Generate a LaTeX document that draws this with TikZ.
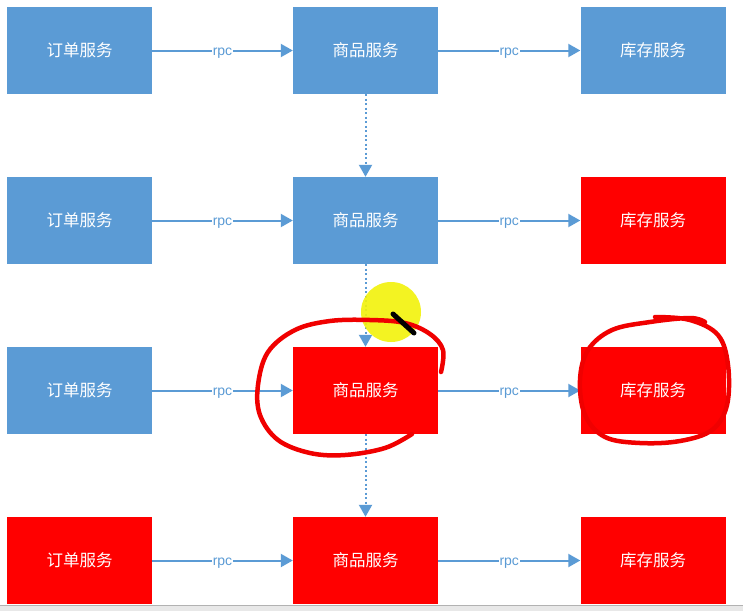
\documentclass[tikz,border=0pt]{standalone}
\usepackage{fontspec}
\setmainfont{Liberation Sans}
\newfontfamily\cjk{Noto Sans CJK SC}
\usetikzlibrary{arrows.meta}
\definecolor{svcblue}{HTML}{5B9BD5}
\definecolor{svcred}{HTML}{FF0000}
\definecolor{penred}{HTML}{F00000}
\definecolor{hilite}{HTML}{F2F20A}
\tikzset{
  svc/.style={minimum width=145pt, minimum height=87pt, inner sep=0pt,
    text=white, font=\cjk\fontsize{16.5}{18}\selectfont},
  okbox/.style={svc, fill=svcblue},
  downbox/.style={svc, fill=svcred},
  call/.style={draw=svcblue, line width=2pt, -{Triangle[length=12pt,width=13pt]}},
  fallback/.style={draw=svcblue, line width=2pt, dash pattern=on 2pt off 2.5pt,
    -{Triangle[length=12pt,width=13pt]}},
  rpclabel/.style={fill=white, text=svcblue, inner xsep=1pt, inner ysep=0pt,
    yshift=-2.5pt, font=\fontsize{14}{15}\selectfont},
  pen/.style={draw=penred, line width=4.5pt, line cap=round, line join=round}
}
\begin{document}
\begin{tikzpicture}[x=1pt, y=-1pt]
  \useasboundingbox (0,0) rectangle (743,611);
  \fill[white] (0,0) rectangle (743,611);
  % window strip along the bottom edge
  \fill[black!9] (0,605) rectangle (743,611);
  \draw[black!30, line width=1pt] (0,605.5) -- (743,605.5);

  % row 1: all services healthy
  \node[okbox]   (o1) at (79.5,50.5)  {订单服务};
  \node[okbox]   (g1) at (365.5,50.5) {商品服务};
  \node[okbox]   (s1) at (653,50.5)   {库存服务};
  % row 2: stock service down
  \node[okbox]   (o2) at (79.5,220.5)  {订单服务};
  \node[okbox]   (g2) at (365.5,220.5) {商品服务};
  \node[downbox] (s2) at (653,220.5)   {库存服务};
  % row 3: goods service drags down too
  \node[okbox]   (o3) at (79.5,390.5)  {订单服务};
  \node[downbox] (g3) at (365.5,390.5) {商品服务};
  \node[downbox] (s3) at (653,390.5)   {库存服务};
  % row 4: whole chain down
  \node[downbox] (o4) at (79.5,560.5)  {订单服务};
  \node[downbox] (g4) at (365.5,560.5) {商品服务};
  \node[downbox] (s4) at (653,560.5)   {库存服务};

  % rpc calls
  \foreach \r in {1,2,3,4} {
    \draw[call] (o\r) -- node[rpclabel] {rpc} (g\r);
    \draw[call] (g\r) -- node[rpclabel] {rpc} (s\r);
  }
  % progression between the stages
  \draw[fallback] (g1) -- (g2);
  \draw[fallback] (g2) -- (g3);
  \draw[fallback] (g3) -- (g4);

  % pointer highlight
  \fill[hilite, opacity=0.9] (391,312) ellipse (30pt and 30pt);

  % hand-drawn marks
  \draw[pen] plot[smooth, tension=0.6] coordinates {
    (441,372) (443,350) (430,334) (405,323) (370,320) (330,321)
    (295,330) (268,352) (258,385) (260,415) (278,440) (310,453)
    (345,455) (385,448) (412,434)};
  \draw[pen] plot[smooth, tension=0.6] coordinates {
    (655,317) (690,320) (718,335) (728,365) (727,405) (712,430)
    (680,441) (640,443) (605,437) (585,415) (580,380) (588,350)
    (612,330) (650,322) (690,318) (705,322)};
  \draw[black, line width=5pt, line cap=round] (393,314) -- (414,333);
\end{tikzpicture}
\end{document}
